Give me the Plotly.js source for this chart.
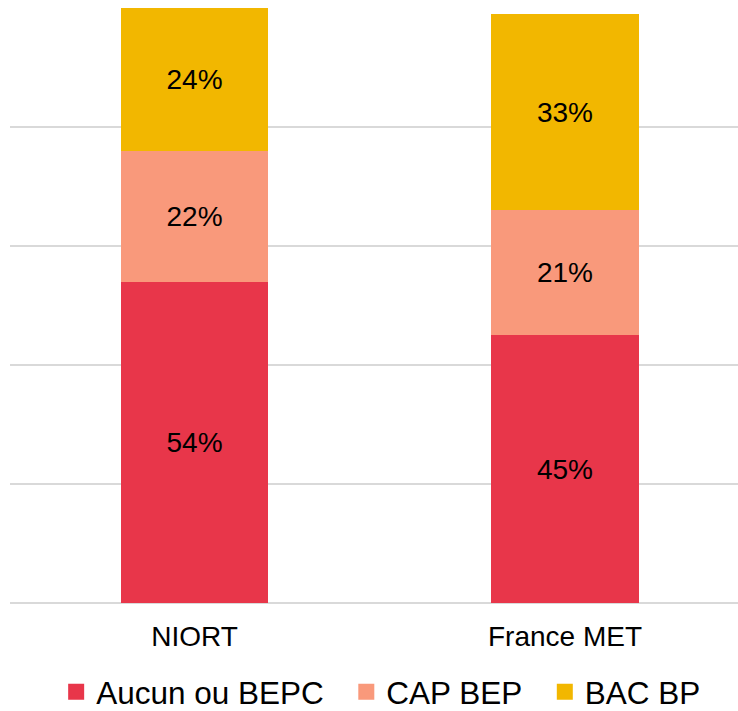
<!DOCTYPE html>
<html>
<head>
<meta charset="utf-8">
<script src="https://cdn.plot.ly/plotly-3.0.1.min.js"></script>
<style>html,body{margin:0;padding:0;background:#fff;}#chart{width:738px;height:711px;}</style>
</head>
<body>
<div id="chart"></div>
<script>
const categories = ["NIORT", "France MET"];
const seriesNames = ["Aucun ou BEPC", "CAP BEP", "BAC BP"];
const aucunBepc = [54, 45];
const capBep = [22, 21];
const bacBp = [24, 33];
const colors = ["#E8364A", "#F9997B", "#F2B700"];
const yTicks = [0, 20, 40, 60, 80, 100];

const values = [aucunBepc, capBep, bacBp];
const barTraces = values.map((vals, i) => ({
  type: "bar",
  name: seriesNames[i],
  x: categories,
  y: vals,
  width: 0.398,
  showlegend: false,
  marker: { color: colors[i], line: { width: 0 } },
  text: vals.map(v => v + "%"),
  texttemplate: "%{text}",
  textposition: "inside",
  insidetextanchor: "middle",
  textangle: 0,
  constraintext: "none",
  textfont: { family: "Liberation Sans, Arial, sans-serif", size: 28, color: "#000000" },
  hoverinfo: "skip"
}));

// legend proxies (square swatches)
const legendTraces = seriesNames.map((n, i) => ({
  type: "scatter",
  mode: "markers",
  name: n + "\u00a0\u00a0",
  x: [null],
  y: [null],
  marker: { symbol: "square", size: 16, color: colors[i], line: { width: 0 } },
  hoverinfo: "skip",
  showlegend: true
}));

const layout = {
  width: 738,
  height: 711,
  barmode: "stack",
  paper_bgcolor: "#ffffff",
  plot_bgcolor: "#ffffff",
  margin: { l: 10, r: 0, t: 8, b: 108, pad: 0 },
  font: { family: "Liberation Sans, Arial, sans-serif", size: 28, color: "#000000" },
  showlegend: true,
  legend: {
    orientation: "h",
    x: 0.528,
    xanchor: "center",
    xref: "container",
    yref: "container",
    y: 0.027,
    yanchor: "middle",
    font: { size: 31.5, color: "#000000" },
    traceorder: "normal",
    itemclick: false
  },
  xaxis: {
    type: "category",
    range: [-0.498, 1.467],
    showgrid: false,
    showline: false,
    zeroline: false,
    ticks: "",
    ticklabelstandoff: 14,
    tickfont: { size: 28, color: "#000000" }
  },
  yaxis: {
    range: [0, 100],
    tickvals: yTicks,
    showticklabels: false,
    showgrid: true,
    gridcolor: "#D9D9D9",
    gridwidth: 2,
    zeroline: true,
    zerolinecolor: "#D9D9D9",
    zerolinewidth: 2,
    showline: false,
    ticks: ""
  }
};

Plotly.newPlot("chart", barTraces.concat(legendTraces), layout, { displayModeBar: false, staticPlot: true });
</script>
</body>
</html>
